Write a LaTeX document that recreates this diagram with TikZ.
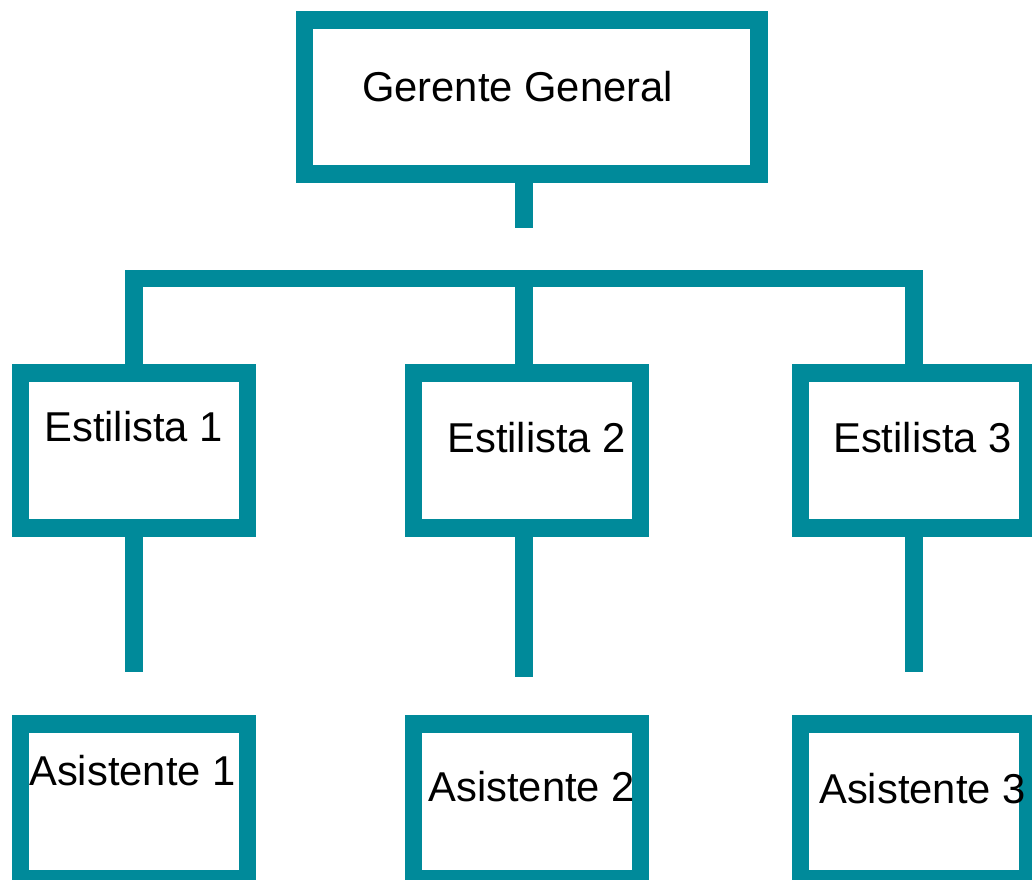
\documentclass[tikz,border=0pt]{standalone}
\usepackage{fontspec}
\setmainfont{Liberation Sans}
\definecolor{orgteal}{RGB}{0,138,154}

\begin{document}
\begin{tikzpicture}[x=0.75pt,y=-0.75pt,
    box/.style={draw=orgteal,line width=13.1pt,inner sep=0pt,outer sep=0pt,
        minimum width=170.25pt,minimum height=115.95pt},
    link/.style={draw=orgteal,line width=13.1pt},
    lbl/.style={anchor=base,inner sep=0pt,font=\fontsize{31.3}{36}\selectfont}]
    \useasboundingbox (0,0) rectangle (1032,879);
    % Boxes
    \node[box,minimum width=340.9pt,minimum height=115.8pt] (gg) at (531.5,97) {};
    \node[box] (est1) at (133.8,450.5) {};
    \node[box] (est2) at (527.2,450.5) {};
    \node[box] (est3) at (913.8,450.5) {};
    \node[box] (asi1) at (133.8,801.4) {};
    \node[box] (asi2) at (527.2,801.4) {};
    \node[box] (asi3) at (913.8,801.4) {};
    % Texts
    \node[lbl] (t-gg) at (517.5,101.7) {Gerente General};
    \node[lbl] (t-est1) at (133.7,441.7) {Estilista 1};
    \node[lbl] (t-est2) at (536.7,452.7) {Estilista 2};
    \node[lbl] (t-est3) at (922.5,452.7) {Estilista 3};
    \node[lbl] (t-asi1) at (132.5,785) {Asistente 1};
    \node[lbl] (t-asi2) at (531.7,801.7) {Asistente 2};
    \node[lbl] (t-asi3) at (922.5,803.3) {Asistente 3};
    % Lines
    \coordinate (stub) at (524,227.7);
    \coordinate (barL) at (133.8,278.7);
    \coordinate (barR) at (913.8,278.7);
    \draw[link] (gg.south -| stub) -- (stub);
    \draw[link] (est1.north) -- (barL) -- (barR) -- (est3.north);
    \draw[link] (est2.north -| stub) -- (stub |- barL);
    % Drops, left open
    \coordinate (d1) at (133.8,671.7);
    \coordinate (d2) at (524,677);
    \coordinate (d3) at (913.8,671.7);
    \draw[link] (est1.south) -- (d1);
    \draw[link] (est2.south -| d2) -- (d2);
    \draw[link] (est3.south) -- (d3);
\end{tikzpicture}
\end{document}
